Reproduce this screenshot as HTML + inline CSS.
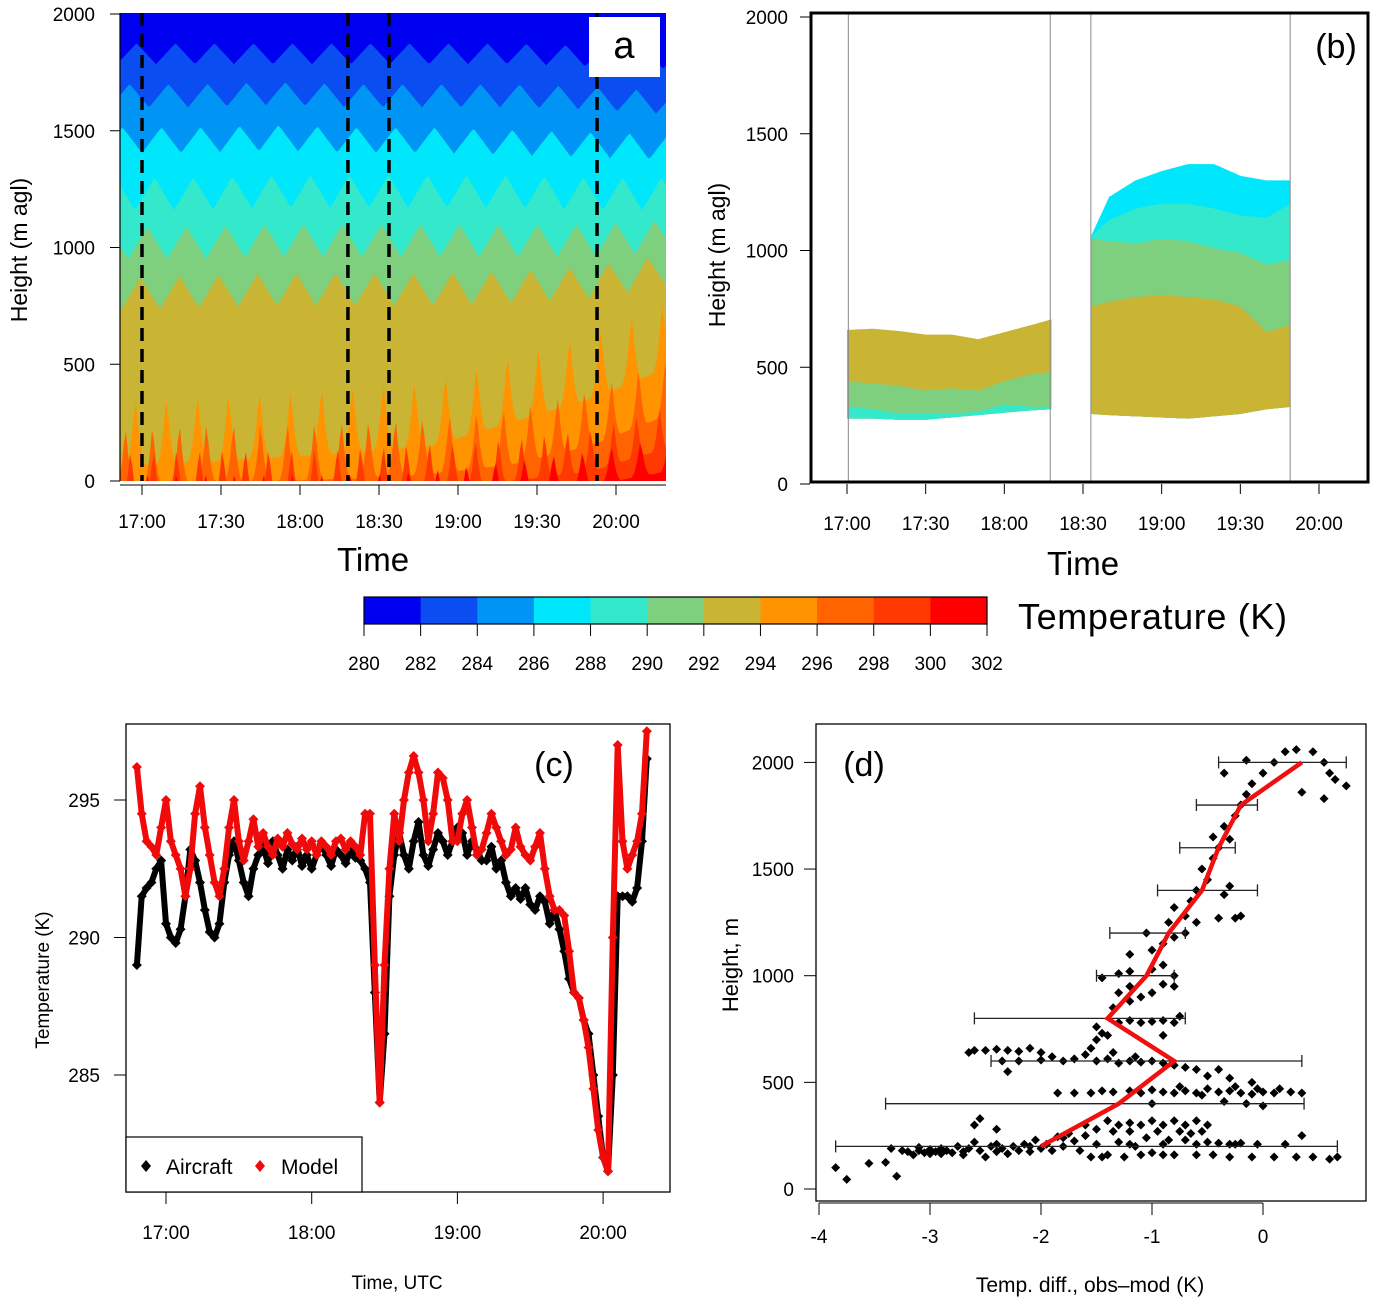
<!DOCTYPE html>
<html><head><meta charset="utf-8"><style>
html,body{margin:0;padding:0;background:#fff}
svg{display:block;font-family:"Liberation Sans",Arial,sans-serif}
</style></head><body>
<svg id="fig" width="1376" height="1298" viewBox="0 0 1376 1298" xmlns="http://www.w3.org/2000/svg">
<defs>
<clipPath id="clipA"><rect x="120" y="13" width="546" height="468"/></clipPath>
<clipPath id="clipC"><rect x="126" y="724" width="544" height="468"/></clipPath>
</defs>
<g id="panelA"></g>
<g id="panelB"></g>
<g id="cbar"></g>
<g id="panelC"></g>
<g id="panelD"></g>
</svg>
<script>
// ---------- shared data ----------
const tempLevels = [280,282,284,286,288,290,292,294,296,298,300,302];
const levelColors = ["#0000f0","#0a4ef2","#0094f5","#00e6fa","#34e8cc","#7ecf7e","#c9b434","#ff9300","#ff6400","#ff3a00","#ff0000"];
const timeTickLabels = ["17:00","17:30","18:00","18:30","19:00","19:30","20:00"];
const timeTickMinutes = [0,30,60,90,120,150,180];
const heightTicks = [0,500,1000,1500,2000];

// panel a: boundary heights at sample times
const aTimes = [-8,20,50,80,110,140,170,199];
const aB282 = [1830,1830,1830,1830,1830,1830,1820,1810];
const aB284 = [1650,1650,1660,1650,1650,1650,1640,1620];
const aB286 = [1460,1460,1470,1460,1460,1450,1440,1430];
const aB288 = [1230,1230,1240,1240,1240,1240,1230,1230];
const aB290 = [1020,1020,1030,1030,1030,1030,1030,1050];
const aB292 = [800,810,820,820,820,830,850,900];
const aB294 = [60,80,100,120,150,250,350,480];
const aB296 = [-20,0,0,10,30,70,150,280];
const aB298 = [-60,-50,-50,-40,-20,0,40,140];
const aB300 = [-120,-120,-120,-120,-100,-60,-20,40];
const flightTimes = [0,78.2,93.8,172.8];

// panel b
const bT1 = [0,10,20,30,40,50,60,70,78];
const b1OliveTop = [660,665,655,640,640,620,650,680,705];
const b1GreenTop = [440,430,420,400,410,400,440,470,480];
const b1TealTop = [330,320,300,300,300,310,340,330,330];
const b1Bottom = [280,280,275,275,285,295,305,315,320];
const bT2 = [93,100,110,120,130,140,150,160,169];
const b2CyanTop = [1060,1230,1300,1340,1370,1370,1320,1300,1300];
const b2TealTop = [1060,1130,1180,1200,1200,1180,1150,1140,1200];
const b2GreenTop = [1050,1040,1030,1050,1040,1010,990,940,960];
const b2OliveTop = [760,780,800,810,800,790,760,650,680];
const b2Bottom = [300,295,290,285,280,290,300,320,330];
const bSegEdges = [0.5,77.5,93,169];

// panel c (2-min steps starting at -12 min from 17:00)
const cStart = -12, cStep = 2;
const aircraftT = [289.0,291.5,291.8,292.0,292.5,292.8,290.5,290.0,289.8,290.3,291.5,293.2,292.8,292.0,291.0,290.2,290.0,290.5,292.0,293.0,293.5,292.8,292.0,291.5,292.5,293.0,
293.3,292.7,293.5,293.0,292.5,293.2,292.8,293.3,292.6,293.0,292.5,293.0,293.4,293.0,292.6,293.2,293.0,292.7,293.2,292.9,292.8,292.5,292.0,288.0,284.0,286.5,291.5,293.0,293.8,293.0,
292.5,293.5,294.2,293.0,292.6,293.2,293.8,293.5,293.0,293.5,294.0,293.8,293.0,293.5,293.2,292.8,292.8,293.3,292.5,292.8,292.0,291.5,291.8,291.4,291.8,291.2,291.0,291.5,291.3,290.5,
291.0,290.3,289.5,288.5,288.0,287.8,287.0,286.5,285.0,283.5,282.0,281.5,285.0,291.5,291.5,291.5,291.3,291.8,293.5,296.5];
const modelT = [296.2,294.5,293.5,293.3,293.0,294.0,295.0,293.5,293.0,292.5,291.5,292.5,294.5,295.5,294.0,293.0,292.0,291.5,292.5,294.0,295.0,293.5,292.8,293.5,294.3,293.3,
293.8,293.3,293.0,293.6,293.3,293.8,293.4,293.2,293.6,293.2,293.5,293.0,293.5,293.3,293.0,293.5,293.6,293.2,293.5,293.3,293.0,294.5,294.5,289.0,284.0,289.0,292.5,294.5,293.5,295.0,
296.0,296.6,296.0,295.0,293.5,294.5,296.0,295.8,295.0,293.5,293.5,294.5,295.0,294.0,293.0,293.2,293.8,294.5,294.0,293.5,293.0,293.2,294.0,293.3,293.0,292.8,293.3,293.8,292.5,291.5,
291.0,291.0,290.8,289.5,288.0,287.8,287.0,286.0,284.5,283.0,282.0,281.5,290.0,297.0,293.5,292.5,293.0,293.5,294.5,297.5];
const cTempTicks = [285,290,295];
const cTimeLabels = ["17:00","18:00","19:00","20:00"];
const cTimeMinutes = [0,60,120,180];

// panel d
const dLevels = [2000,1800,1600,1400,1200,1000,800,600,400,200];
const dMean = [0.35,-0.2,-0.4,-0.55,-0.85,-1.05,-1.4,-0.8,-1.3,-2.0];
const dErrLo = [-0.4,-0.6,-0.75,-0.95,-1.38,-1.5,-2.6,-2.45,-3.4,-3.85];
const dErrHi = [0.75,-0.05,-0.25,-0.05,-0.7,-0.8,-0.7,0.35,0.37,0.67];
const dXTicks = [-4,-3,-2,-1,0];
const dYTicks = [0,500,1000,1500,2000];
const dPts = [[-3.85,100],[-3.75,45],[-3.55,120],[-3.4,125],[-3.3,60],[-3.35,190],[-3.2,175],[-3.15,160],[-3.1,180],[-3.05,170],[-3.0,185],[-2.95,175],[-2.9,165],[-2.85,180],[-2.8,170],[-2.75,200],[-2.7,175],[-2.65,190],[-2.6,220],[-2.55,180],[-2.5,150],[-2.45,200],[-2.4,175],[-2.35,190],[-2.3,165],[-2.25,200],[-2.2,180],[-2.15,210],[-2.1,175],[-2.05,230],[-2.0,190],[-1.95,210],[-1.9,180],[-1.85,245],[-1.8,200],[-1.75,260],[-1.7,225],[-1.65,180],[-1.6,250],[-1.55,150],[-1.5,280],[-1.45,150],[-1.4,160],[-1.35,270],[-1.3,220],[-1.25,150],[-1.2,270],[-1.15,200],[-1.1,160],[-1.05,240],[-1.0,170],[-0.95,270],[-0.9,160],[-0.85,230],[-0.8,160],[-0.75,270],[-0.7,230],[-0.65,260],[-0.6,160],[-0.55,270],[-0.5,220],[-0.45,160],[-0.4,215],[-0.3,150],[-0.25,210],[-0.2,215],[-0.1,150],[-0.05,210],[0.1,150],[0.2,210],[0.3,150],[0.45,150],[0.6,140],[0.67,150],[0.35,250],
[-3.1,195],[-2.9,190],[-2.7,160],[-2.4,210],[-2.1,200],[-1.8,240],[-1.5,210],[-1.2,210],[-0.9,210],[-0.6,210],[-0.3,210],[-3.25,180],[-3.0,165],
[-2.6,300],[-2.55,330],[-2.4,280],[-1.6,300],[-1.4,320],[-1.2,310],[-1.0,320],[-0.9,300],[-0.8,320],[-0.7,300],[-0.6,320],[-0.5,300],[-1.3,300],[-1.1,300],
[-1.85,450],[-1.7,450],[-1.55,450],[-1.45,460],[-1.35,455],[-1.2,460],[-1.1,450],[-1.0,465],[-0.9,455],[-0.8,450],[-0.7,460],[-0.6,450],[-0.5,470],[-0.4,455],[-0.3,460],[-0.2,450],[-0.1,445],[0.0,455],[0.1,450],[0.25,455],[0.35,450],[-0.15,400],[0.0,390],[-0.35,410],[-1.0,400],[-0.5,530],[-0.3,520],[-0.1,500],[-0.6,560],[-0.4,560],[-0.75,480],[-0.55,440],[-0.25,480],[-0.05,470],[0.15,470],
[-2.6,650],[-2.5,650],[-2.4,655],[-2.3,650],[-2.2,645],[-2.1,660],[-2.0,640],[-1.9,620],[-1.8,600],[-1.7,610],[-1.6,630],[-1.5,600],[-1.4,610],[-1.3,590],[-1.2,600],[-1.1,595],[-1.0,600],[-0.9,590],[-0.8,580],[-0.7,570],[-2.35,600],[-2.2,600],[-2.0,605],[-2.65,640],[-2.3,550],[-1.5,700],[-1.45,730],[-1.55,660],[-1.35,640],[-1.15,620],
[-1.3,780],[-1.2,790],[-1.1,780],[-1.0,785],[-0.9,790],[-0.8,780],[-0.75,810],[-1.5,760],[-1.4,720],[-0.9,720],[-1.35,850],[-1.2,880],
[-1.3,920],[-1.2,950],[-1.1,900],[-1.0,920],[-0.9,960],[-0.8,950],[-1.45,990],[-1.3,1010],[-1.2,1020],[-1.0,1030],[-0.9,1050],[-0.8,1000],
[-1.2,1100],[-1.0,1120],[-0.9,1150],[-0.8,1180],[-0.7,1200],[-0.85,1250],[-1.05,1200],[-0.6,1250],[-0.7,1280],[-0.25,1270],[-0.2,1280],[-0.4,1270],
[-0.65,1350],[-0.6,1400],[-0.5,1450],[-0.55,1500],[-0.45,1550],[-0.35,1380],[-0.3,1420],[-0.4,1600],[-0.3,1640],[-0.8,1320],
[-0.35,1700],[-0.25,1750],[-0.2,1800],[-0.15,1850],[-0.1,1900],[0.0,1950],[0.1,2000],[0.2,2050],[0.3,2060],[0.45,2050],[0.55,2000],[0.6,1950],[0.65,1920],[0.75,1890],[0.55,1830],[0.35,1860],[-0.35,1950],[-0.15,2010],[-0.45,1650]];
const scatterDiff = dPts.map(p=>p[0]);
const scatterHeight = dPts.map(p=>p[1]);

// ---------- helpers ----------
const NS="http://www.w3.org/2000/svg";
function mk(tag, attrs, parent){const e=document.createElementNS(NS,tag);for(const k in attrs)e.setAttribute(k,attrs[k]);parent.appendChild(e);return e;}
function txt(s, attrs, parent){const e=mk("text",attrs,parent);e.textContent=s;return e;}
function interp(xs, ys, x){if(x<=xs[0])return ys[0];for(let i=1;i<xs.length;i++){if(x<=xs[i]){const f=(x-xs[i-1])/(xs[i]-xs[i-1]);return ys[i-1]+f*(ys[i]-ys[i-1]);}}return ys[ys.length-1];}

// ---------- panel A ----------
(function(){
const g=document.getElementById("panelA");
const xA=t=>142+t*79/30, yA=h=>481-h*0.2335;
const tOf=x=>(x-142)*30/79;
const plot=mk("g",{"clip-path":"url(#clipA)"},g);


const bg=mk("rect",{x:120,y:13,width:546,height:468,fill:levelColors[0]},plot);


const bounds=[aB282,aB284,aB286,aB288,aB290,aB292,aB294,aB296,aB298,aB300];
const amps=[45,50,55,70,70,70,300,260,200,160];
bounds.forEach((arr,k)=>{
  let pts=[];
  for(let x=118;x<=668;x+=2){
    const base=interp(aTimes,arr,tOf(x));
    let h;
    if(k<6){const f=((x+k*7)/39)%1;h=base+amps[k]*(1-4*Math.abs(f-0.5));}
    else {const P=[31,27,23,29][k-6];const f=((x+k*11)/P)%1;const s=Math.max(0,1-Math.abs(f-0.5)*3.0);h=base+amps[k]*(s*s);}
    pts.push(x+","+yA(h).toFixed(1));
  }
  pts.push("668,490","118,490");
  const p=mk("polygon",{points:pts.join(" "),fill:levelColors[k+1]},plot);
  
  
});
flightTimes.forEach(t=>{
  const l=mk("line",{x1:xA(t),x2:xA(t),y1:13,y2:481,stroke:"#000","stroke-width":3.5,"stroke-dasharray":"13,8"},plot);
  
  
});
const lb=mk("rect",{x:589,y:17,width:71,height:60,fill:"#fff"},g);


const la=txt("a",{x:624,y:58,"font-size":38,"text-anchor":"middle"},g);


const ax=mk("path",{d:"M120,481 V13",stroke:"#000","stroke-width":1.2,fill:"none"},g);


heightTicks.forEach(h=>{
  mk("line",{x1:110,x2:120,y1:yA(h),y2:yA(h),stroke:"#000"},g);
  const t=txt(String(h),{x:95,y:yA(h)+7,"font-size":19,"text-anchor":"end"},g);
  
  
});
mk("line",{x1:120,x2:666,y1:485,y2:485,stroke:"#000"},g);
timeTickMinutes.forEach((m,i)=>{
  mk("line",{x1:xA(m),x2:xA(m),y1:485,y2:495,stroke:"#000"},g);
  const t=txt(timeTickLabels[i],{x:xA(m),y:528,"font-size":19,"text-anchor":"middle"},g);
  
  
});
const yt=txt("Height (m agl)",{x:0,y:0,"font-size":23,"text-anchor":"middle",transform:"translate(27,250) rotate(-90)"},g);


const xt=txt("Time",{x:373,y:571,"font-size":33,"text-anchor":"middle"},g);


})();

// ---------- panel B ----------
(function(){
const g=document.getElementById("panelB");
const xB=t=>847+t*472/180, yB=h=>484-h*0.2335;
function layer(ts,top,bot,color,name){
  let pts=[];const t0=ts[0],t1=ts[ts.length-1];
  for(let t=t0;t<=t1+0.01;t+=1){pts.push(xB(t).toFixed(1)+","+yB(interp(ts,top,t)).toFixed(1));}
  for(let t=t1;t>=t0-0.01;t-=1){pts.push(xB(t).toFixed(1)+","+yB(interp(ts,bot,t)).toFixed(1));}
  const p=mk("polygon",{points:pts.join(" "),fill:color},g);
  
  
}
layer(bT1,b1OliveTop,b1Bottom,levelColors[6],"seg1-band-292");
layer(bT1,b1GreenTop,b1Bottom,levelColors[5],"seg1-band-290");
layer(bT1,b1TealTop,b1Bottom,levelColors[4],"seg1-band-288");
layer(bT2,b2CyanTop,b2Bottom,levelColors[3],"seg2-band-286");
layer(bT2,b2TealTop,b2Bottom,levelColors[4],"seg2-band-288");
layer(bT2,b2GreenTop,b2Bottom,levelColors[5],"seg2-band-290");
layer(bT2,b2OliveTop,b2Bottom,levelColors[6],"seg2-band-292");
bSegEdges.forEach(t=>{
  const l=mk("line",{x1:xB(t),x2:xB(t),y1:14,y2:481,stroke:"#888","stroke-width":1},g);
  
  
});
const box=mk("rect",{x:811,y:13,width:557,height:469,fill:"none",stroke:"#000","stroke-width":3},g);


heightTicks.forEach(h=>{
  mk("line",{x1:800,x2:810,y1:yB(h),y2:yB(h),stroke:"#000"},g);
  const t=txt(String(h),{x:788,y:yB(h)+7,"font-size":19,"text-anchor":"end"},g);
  
  
});
timeTickMinutes.forEach((m,i)=>{
  mk("line",{x1:xB(m),x2:xB(m),y1:484,y2:494,stroke:"#000"},g);
  const t=txt(timeTickLabels[i],{x:xB(m),y:530,"font-size":19,"text-anchor":"middle"},g);
  
  
});
const lb=txt("(b)",{x:1336,y:58,"font-size":34,"text-anchor":"middle"},g);


const yt=txt("Height (m agl)",{x:0,y:0,"font-size":23,"text-anchor":"middle",transform:"translate(725,255) rotate(-90)"},g);


const xt=txt("Time",{x:1083,y:575,"font-size":33,"text-anchor":"middle"},g);


})();

// ---------- colorbar ----------
(function(){
const g=document.getElementById("cbar");
const x0=364,x1=987,w=(x1-x0)/levelColors.length;
levelColors.forEach((c,i)=>{
  const r=mk("rect",{x:x0+i*w,y:597,width:w+0.5,height:27,fill:c},g);
  
  
});
mk("rect",{x:x0,y:597,width:x1-x0,height:27,fill:"none",stroke:"#000","stroke-width":1.2},g);
tempLevels.forEach((v,i)=>{
  mk("line",{x1:x0+i*w,x2:x0+i*w,y1:624,y2:636,stroke:"#000"},g);
  const t=txt(String(v),{x:x0+i*w,y:670,"font-size":19,"text-anchor":"middle"},g);
  
  
});
const tt=txt("Temperature  (K)",{x:1018,y:629,"font-size":36,"textLength":269,"lengthAdjust":"spacing"},g);


})();

// ---------- panel C ----------
(function(){
const g=document.getElementById("panelC");
const xC=t=>166+t*145.7/60, yC=T=>800+(295-T)*27.5;
const plot=mk("g",{"clip-path":"url(#clipC)"},g);
function series(vals,color,name){
  const pts=vals.map((v,i)=>xC(cStart+i*cStep).toFixed(1)+","+yC(v).toFixed(1)).join(" ");
  const pl=mk("polyline",{points:pts,fill:"none",stroke:color,"stroke-width":6,"stroke-linejoin":"round"},plot);
  
  
  vals.forEach((v,i)=>{
    const x=xC(cStart+i*cStep),y=yC(v);
    const d=mk("path",{d:`M${x},${y-5} L${x+5},${y} L${x},${y+5} L${x-5},${y}Z`,fill:color},plot);
    
    
  });
}
series(aircraftT,"#000","aircraft");
series(modelT,"#f00a0a","model");
const box=mk("rect",{x:126,y:724,width:544,height:468,fill:"none",stroke:"#000","stroke-width":1.3},g);


cTempTicks.forEach(T=>{
  mk("line",{x1:114,x2:126,y1:yC(T),y2:yC(T),stroke:"#000"},g);
  const t=txt(String(T),{x:100,y:yC(T)+7,"font-size":19,"text-anchor":"end"},g);
  
  
});
cTimeMinutes.forEach((m,i)=>{
  mk("line",{x1:xC(m),x2:xC(m),y1:1192,y2:1204,stroke:"#000"},g);
  const t=txt(cTimeLabels[i],{x:xC(m),y:1239,"font-size":19,"text-anchor":"middle"},g);
  
  
});
const leg=mk("g",{},g);


mk("rect",{x:126,y:1137,width:236,height:55,fill:"#fff",stroke:"#000","stroke-width":1.2},leg);
mk("path",{d:"M146,1160 l5,6 l-5,6 l-5,-6z",fill:"#000"},leg);
const l1=txt("Aircraft",{x:166,y:1174,"font-size":21},leg);


mk("path",{d:"M260,1160 l5,6 l-5,6 l-5,-6z",fill:"#f00a0a"},leg);
const l2=txt("Model",{x:281,y:1174,"font-size":21},leg);


const lb=txt("(c)",{x:554,y:776,"font-size":34,"text-anchor":"middle"},g);


const yt=txt("Temperature (K)",{x:0,y:0,"font-size":19,"text-anchor":"middle",transform:"translate(49,980) rotate(-90)"},g);


const xt=txt("Time, UTC",{x:397,y:1289,"font-size":19,"text-anchor":"middle"},g);


})();

// ---------- panel D ----------
(function(){
const g=document.getElementById("panelD");
const xD=v=>1263+v*111, yD=h=>1189-h*0.2133;
scatterDiff.forEach((v,i)=>{
  const x=xD(v),y=yD(scatterHeight[i]);
  const d=mk("path",{d:`M${x},${y-4.5} L${x+4.5},${y} L${x},${y+4.5} L${x-4.5},${y}Z`,fill:"#000"},g);
  
  
});
dLevels.forEach((h,i)=>{
  const y=yD(h);
  const e=mk("path",{d:`M${xD(dErrLo[i])},${y} H${xD(dErrHi[i])} M${xD(dErrLo[i])},${y-6} v12 M${xD(dErrHi[i])},${y-6} v12`,stroke:"#222","stroke-width":1.3,fill:"none"},g);
  
  
});
const mp=dMean.map((v,i)=>xD(v).toFixed(1)+","+yD(dLevels[i]).toFixed(1)).join(" ");
const ml=mk("polyline",{points:mp,fill:"none",stroke:"#f01010","stroke-width":4.5,"stroke-linejoin":"miter"},g);


const box=mk("rect",{x:816,y:724,width:550,height:477,fill:"none",stroke:"#000","stroke-width":1.3},g);


dYTicks.forEach(h=>{
  mk("line",{x1:804,x2:816,y1:yD(h),y2:yD(h),stroke:"#000"},g);
  const t=txt(String(h),{x:794,y:yD(h)+7,"font-size":19,"text-anchor":"end"},g);
  
  
});
mk("line",{x1:xD(-4),x2:xD(0),y1:1203,y2:1203,stroke:"#000"},g);
dXTicks.forEach(v=>{
  mk("line",{x1:xD(v),x2:xD(v),y1:1203,y2:1215,stroke:"#000"},g);
  const t=txt(String(v),{x:xD(v),y:1243,"font-size":19,"text-anchor":"middle"},g);
  
  
});
const lb=txt("(d)",{x:864,y:776,"font-size":34,"text-anchor":"middle"},g);


const yt=txt("Height, m",{x:0,y:0,"font-size":22,"text-anchor":"middle",transform:"translate(738,965) rotate(-90)"},g);


const xt=txt("Temp. diff., obs\u2013mod (K)",{x:1090,y:1292,"font-size":21,"text-anchor":"middle"},g);


})();
</script>
</body></html>
